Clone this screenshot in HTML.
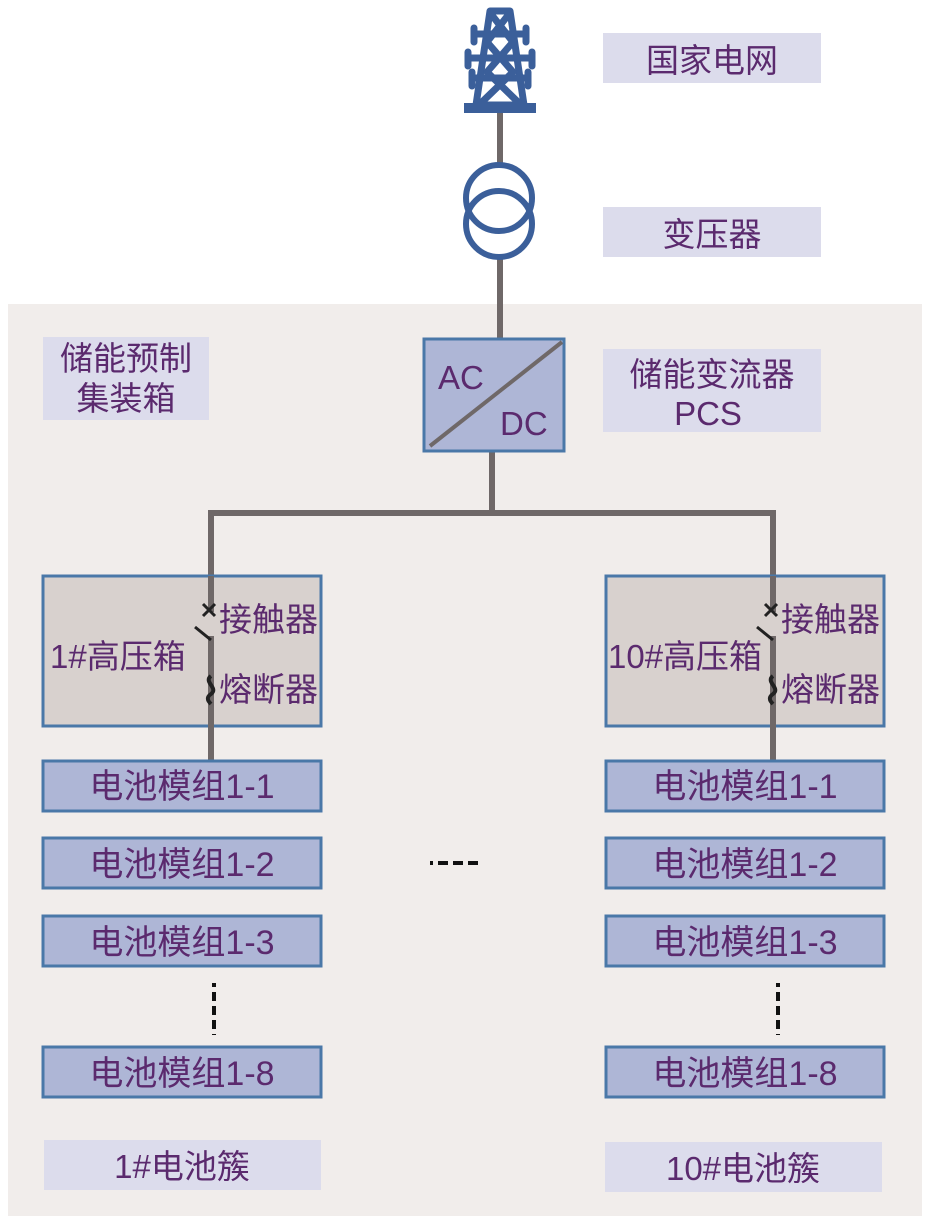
<!DOCTYPE html>
<html><head><meta charset="utf-8">
<style>
html,body{margin:0;padding:0;background:#fff;}
svg{display:block;}
text{font-family:"Liberation Sans","Noto Sans CJK SC",sans-serif;fill:#5b2a6e;}
</style></head><body>
<svg width="930" height="1224" viewBox="0 0 930 1224" xmlns="http://www.w3.org/2000/svg">
<rect x="0" y="0" width="930" height="1224" fill="#ffffff"/>
<rect x="8" y="304" width="914" height="912" fill="#f1edeb"/>

<!-- tower -->
<g fill="none" stroke="#3b5f9a" stroke-width="7" stroke-linejoin="round" stroke-linecap="round">
  <path d="M490 11 L510 11 L524 105 L476 105 Z"/>
  <path d="M491 14 L513 42 L487 72 L518 102 M509 14 L487 42 L513 72 L482 102"/>
  <path d="M474 34 L526 34 M468 58 L532 58 M472 78 L528 78"/>
  <path d="M474 28 L474 42 M526 28 L526 42 M468 52 L468 66 M532 52 L532 66 M472 72 L472 86 M528 72 L528 86"/>
</g>
<rect x="464" y="103" width="72" height="10" fill="#3b5f9a"/>
<!-- lines -->
<g stroke="#6f6868" stroke-width="6" fill="none">
  <line x1="500" y1="113" x2="500" y2="166"/>
  <line x1="500" y1="257" x2="500" y2="340"/>
  <line x1="492" y1="452" x2="492" y2="513"/>
  <polyline points="211,760 211,513 773,513 773,760"/>
</g>
<!-- transformer -->
<g fill="none" stroke="#3b5f9a" stroke-width="6">
  <circle cx="499" cy="198" r="33"/>
  <circle cx="499" cy="224" r="33"/>
</g>

<!-- labels -->
<rect x="603" y="33" width="218" height="50" fill="#dcdcec"/>
<text x="712" y="72" font-size="33" text-anchor="middle">国家电网</text>
<rect x="603" y="207" width="218" height="50" fill="#dcdcec"/>
<text x="712" y="246" font-size="33" text-anchor="middle">变压器</text>
<rect x="603" y="349" width="218" height="83" fill="#dcdcec"/>
<text x="712" y="386" font-size="33" text-anchor="middle">储能变流器</text>
<text x="708" y="425" font-size="33" text-anchor="middle">PCS</text>
<rect x="43" y="337" width="166" height="83" fill="#dcdcec"/>
<text x="126" y="370" font-size="33" text-anchor="middle">储能预制</text>
<text x="126" y="410" font-size="33" text-anchor="middle">集装箱</text>

<!-- PCS box -->
<rect x="424" y="339" width="140" height="112" fill="#aeb6d6" stroke="#4a78a8" stroke-width="3"/>
<line x1="430" y1="446" x2="562" y2="342" stroke="#6f6868" stroke-width="4"/>
<text x="438" y="389" font-size="33">AC</text>
<text x="500" y="435" font-size="33">DC</text>

<!-- HV boxes -->
<rect x="43" y="576" width="278" height="150" fill="#d8d1ce" stroke="#4a78a8" stroke-width="3"/>
<rect x="606" y="576" width="278" height="150" fill="#d8d1ce" stroke="#4a78a8" stroke-width="3"/>
<g stroke="#6f6868" stroke-width="6">
  <line x1="211" y1="576" x2="211" y2="760"/>
  <line x1="773" y1="576" x2="773" y2="760"/>
</g>
<g id="sw">
  <rect x="206" y="612" width="11" height="24" fill="#d8d1ce"/>
  <path d="M203 604 L215 616 M215 604 L203 616" stroke="#222" stroke-width="3"/>
  <line x1="195" y1="627" x2="211" y2="640" stroke="#222" stroke-width="3"/>
  <path d="M211 676 C203 682 219 688 211 694 C205 698 209 702 211 704" fill="none" stroke="#222" stroke-width="4"/>
</g>
<use href="#sw" transform="translate(562,0)"/>
<text x="219" y="631" font-size="33">接触器</text>
<text x="219" y="701" font-size="33">熔断器</text>
<text x="50" y="668" font-size="33">1#高压箱</text>
<text x="781" y="631" font-size="33">接触器</text>
<text x="781" y="701" font-size="33">熔断器</text>
<text x="608" y="668" font-size="33">10#高压箱</text>

<!-- modules -->
<g fill="#aeb6d6" stroke="#4a78a8" stroke-width="3">
  <rect x="43" y="761" width="278" height="50"/>
  <rect x="43" y="838" width="278" height="50"/>
  <rect x="43" y="916" width="278" height="50"/>
  <rect x="43" y="1047" width="278" height="50"/>
  <rect x="606" y="761" width="278" height="50"/>
  <rect x="606" y="838" width="278" height="50"/>
  <rect x="606" y="916" width="278" height="50"/>
  <rect x="606" y="1047" width="278" height="50"/>
</g>
<g font-size="34" text-anchor="middle">
  <text x="182" y="798">电池模组1-1</text>
  <text x="182" y="876">电池模组1-2</text>
  <text x="182" y="954">电池模组1-3</text>
  <text x="182" y="1085">电池模组1-8</text>
  <text x="745" y="798">电池模组1-1</text>
  <text x="745" y="876">电池模组1-2</text>
  <text x="745" y="954">电池模组1-3</text>
  <text x="745" y="1085">电池模组1-8</text>
</g>

<!-- dashes -->
<g stroke="#111" stroke-width="4">
  <line x1="430" y1="863" x2="433" y2="863"/>
  <line x1="438" y1="863" x2="482" y2="863" stroke-dasharray="10,5"/>
  <line x1="214" y1="983" x2="214" y2="987"/>
  <line x1="214" y1="992" x2="214" y2="1035" stroke-dasharray="9,5"/>
  <line x1="778" y1="983" x2="778" y2="987"/>
  <line x1="778" y1="992" x2="778" y2="1035" stroke-dasharray="9,5"/>
</g>

<!-- cluster labels -->
<rect x="44" y="1140" width="277" height="50" fill="#dcdcec"/>
<text x="182" y="1178" font-size="33" text-anchor="middle">1#电池簇</text>
<rect x="605" y="1142" width="277" height="50" fill="#dcdcec"/>
<text x="743" y="1180" font-size="33" text-anchor="middle">10#电池簇</text>
</svg>
</body></html>
